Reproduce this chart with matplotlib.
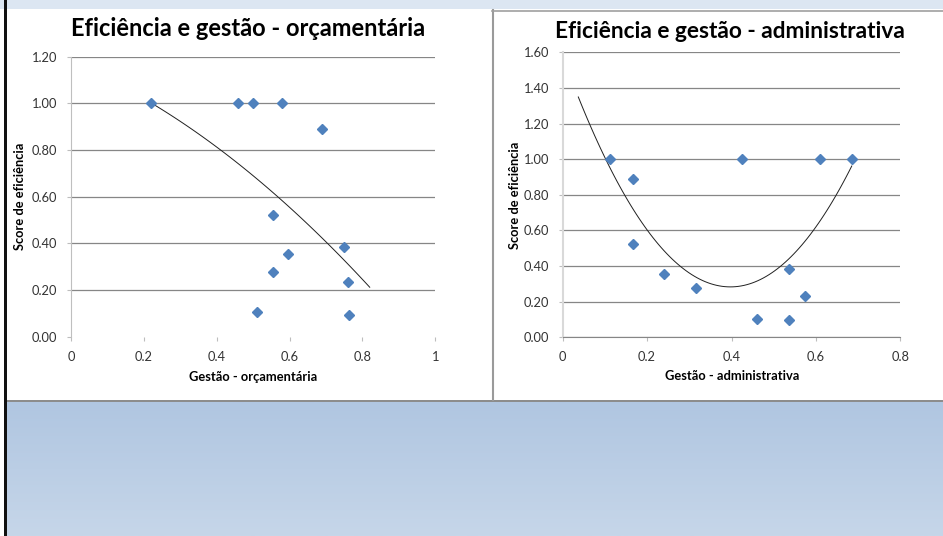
import numpy as np
import matplotlib
matplotlib.use("Agg")
import matplotlib.pyplot as plt
from matplotlib.patches import Rectangle
from matplotlib.colors import LinearSegmentedColormap

# data
eff_orc = [1.00, 1.00, 1.00, 1.00, 0.89, 0.523, 0.383, 0.356, 0.277, 0.233, 0.106, 0.093]
gest_orc = [0.22, 0.458, 0.50, 0.58, 0.69, 0.554, 0.750, 0.596, 0.554, 0.759, 0.510, 0.762]

eff_adm = [1.00, 1.00, 1.00, 1.00, 0.89, 0.522, 0.382, 0.357, 0.279, 0.234, 0.105, 0.095]
gest_adm = [0.112, 0.426, 0.610, 0.685, 0.166, 0.167, 0.537, 0.239, 0.315, 0.573, 0.461, 0.537]

# x span of the polynomial (order 2) trendlines
trend_orc_range = [0.22, 0.82]
trend_adm_range = [0.037, 0.685]

fig = plt.figure(figsize=(9.43, 5.36), dpi=100)
W, H = 943, 536

# slide background, pixel coords
bg = fig.add_axes([0, 0, 1, 1], zorder=-1)
bg.set_xlim(0, W)
bg.set_ylim(H, 0)
bg.axis("off")
bg.add_patch(Rectangle((0, 0), W, 9, color="#dce6f2", lw=0))
grad = LinearSegmentedColormap.from_list("g", ["#b0c6e1", "#c6d6e9"])
bg.imshow(np.linspace(0, 1, 100).reshape(-1, 1), extent=[7, W, H, 402],
          cmap=grad, aspect="auto", zorder=0)
bg.add_patch(Rectangle((7, 400), W - 7, 2, color="#8c8c8c", lw=0, zorder=2))
bg.add_patch(Rectangle((3.5, 0), 3.5, H, color="#111111", lw=0, zorder=3))
bg.plot([492.5, 492.5], [10, 400], color="#9a9a9a", lw=1.5)
bg.plot([492, W], [10.5, 10.5], color="#a0a0a0", lw=1.2)

font = "Lato"
title_kw = dict(fontweight="bold", family=font, ha="center", va="center")
lab_kw = dict(fontsize=9.3, fontweight="bold", family=font, ha="center", va="center")
bg.text(248, 28, "Eficiência e gestão - orçamentária", fontsize=17, **title_kw)
bg.text(730, 32, "Eficiência e gestão - administrativa", fontsize=16.3, **title_kw)
bg.text(253, 377, "Gestão - orçamentária", **lab_kw)
bg.text(732, 376, "Gestão - administrativa", **lab_kw)
bg.text(20, 196, "Score de eficiência", rotation=90, **lab_kw)
bg.text(515, 195, "Score de eficiência", rotation=90, **lab_kw)


def setup(ax, xmax, ymax, pad_y, yline_color):
    ax.set_xlim(0, xmax)
    ax.set_ylim(0, ymax)
    ax.set_xticks(np.arange(0, xmax + 0.01, 0.2))
    ax.set_yticks(np.arange(0, ymax + 0.01, 0.2))
    ax.set_xticklabels(["%g" % t for t in np.arange(0, xmax + 0.01, 0.2)])
    ax.set_yticklabels(["%.2f" % t for t in np.arange(0, ymax + 0.01, 0.2)])
    ax.tick_params(axis="both", direction="out", length=3, width=0.8,
                   color="#bdbdbd", labelsize=9.3, labelcolor="#333333")
    ax.tick_params(axis="y", pad=pad_y)
    ax.tick_params(axis="x", pad=7)
    for lbl in ax.get_xticklabels() + ax.get_yticklabels():
        lbl.set_family(font)
    for s in ["top", "right"]:
        ax.spines[s].set_visible(False)
    ax.spines["left"].set_color(yline_color)
    ax.yaxis.grid(True, color="#868686", lw=0.9)
    ax.set_axisbelow(True)
    ax.patch.set_alpha(0)


# left chart
ax1 = fig.add_axes([71 / W, 1 - 336.7 / H, 364.3 / W, 280 / H])
setup(ax1, 1.0, 1.2, 7, "#bfbfbf")
ax1.spines["bottom"].set_visible(False)
ax1.get_ygridlines()[0].set_visible(False)
xs = np.linspace(*trend_orc_range, 100)
fit = np.polyfit(gest_orc, eff_orc, 2)
ax1.plot(xs, np.polyval(fit, xs), color="#202020", lw=0.7)
ax1.plot(gest_orc, eff_orc, "D", color="#4f81bd", ms=5.3, mec="#4f81bd", clip_on=False)

# right chart
ax2 = fig.add_axes([562.7 / W, 1 - 337.3 / H, 337.6 / W, 285 / H])
setup(ax2, 0.8, 1.6, 6.5, "#d9d9d9")
ax2.spines["left"].set_linewidth(1.5)
ax2.spines["bottom"].set_color("#868686")
xs = np.linspace(*trend_adm_range, 100)
fit = np.polyfit(gest_adm, eff_adm, 2)
ax2.plot(xs, np.polyval(fit, xs), color="#202020", lw=0.7)
ax2.plot(gest_adm, eff_adm, "D", color="#4f81bd", ms=5.3, mec="#4f81bd", clip_on=False)

fig.savefig("out.png", dpi=100)
